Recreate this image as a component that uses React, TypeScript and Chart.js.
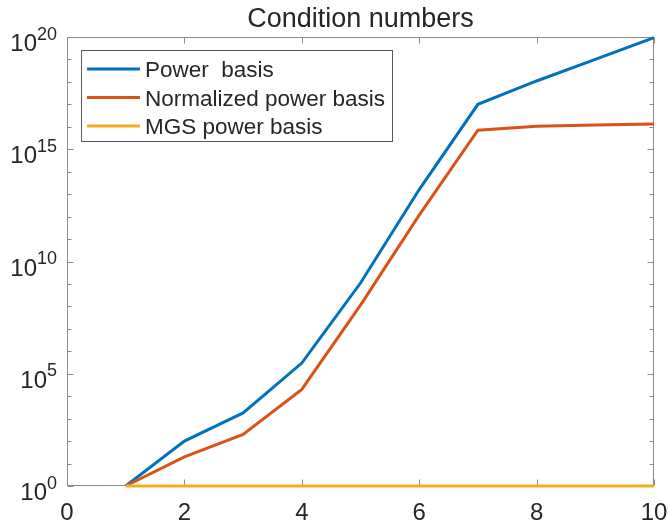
import React, { useEffect, useRef } from "react";
import { Chart, registerables } from "chart.js";

Chart.register(...registerables);

// Polynomial degree (x) and condition numbers of the three bases
const degrees = [1, 2, 3, 4, 5, 6, 7, 8, 9, 10];
const powerBasis = [1, 1.0e2, 1.8e3, 3.0e5, 1.1e9, 1.6e13, 1.0e17, 1.1e18, 1.0e19, 9.3e19];
const normalizedPowerBasis = [1, 2.0e1, 2.0e2, 2.0e4, 1.15e8, 1.17e12, 7.1e15, 1.07e16, 1.2e16, 1.32e16];
const mgsPowerBasis = [1, 1, 1, 1, 1, 1, 1, 1, 1, 1];

const seriesLabels = ["Power  basis", "Normalized power basis", "MGS power basis"];
const seriesColors = ["#0072BD", "#D95319", "#EDB120"];

const xTicks = [0, 2, 4, 6, 8, 10];
const yTickExponents = [0, 5, 10, 15, 20];
const yMinorExponents = [0, 1, 2, 3, 4, 5, 6, 7, 8, 9, 10, 11, 12, 13, 14, 15, 16, 17, 18, 19, 20];

const titleText = "Condition numbers";
const FONT = '"Liberation Sans", Arial, Helvetica, sans-serif';
const TEXT = "#262626";
const AXIS = "#8a8a8a";

const axesFrame = {
  id: "axesFrame",
  beforeDatasetsDraw(chart: any) {
    const { ctx, chartArea: a, scales } = chart;
    const x = scales.x;
    const y = scales.y;
    const L = Math.round(a.left) + 0.5;
    const R = Math.round(a.right) - 0.5;
    const T = Math.round(a.top) + 0.5;
    const B = Math.round(a.bottom) - 0.5;
    ctx.save();
    ctx.strokeStyle = AXIS;
    ctx.lineWidth = 1;
    ctx.strokeRect(L, T, R - L, B - T);
    ctx.beginPath();
    // x ticks, inward on bottom and top
    for (const t of xTicks) {
      const px = Math.round(x.getPixelForValue(t)) + 0.5;
      ctx.moveTo(px, B);
      ctx.lineTo(px, B - 6);
      ctx.moveTo(px, T);
      ctx.lineTo(px, T + 6);
    }
    // y ticks at every decade, inward on left and right
    for (const e of yMinorExponents) {
      const py = Math.round(y.getPixelForValue(Math.pow(10, e))) + 0.5;
      const len = e % 5 === 0 ? 6 : 4;
      ctx.moveTo(L, py);
      ctx.lineTo(L + len, py);
      ctx.moveTo(R, py);
      ctx.lineTo(R - len, py);
    }
    ctx.stroke();
    ctx.restore();
  },
  afterDatasetsDraw(chart: any) {
    const { ctx, chartArea: a, scales } = chart;
    const x = scales.x;
    const y = scales.y;
    ctx.save();
    ctx.fillStyle = TEXT;

    // x tick labels
    ctx.font = `24px ${FONT}`;
    ctx.textAlign = "center";
    ctx.textBaseline = "alphabetic";
    for (const t of xTicks) {
      ctx.fillText(String(t), x.getPixelForValue(t), a.bottom + 34);
    }

    // y tick labels as 10 with a raised exponent
    const labelRight = a.left - 10;
    for (const e of yTickExponents) {
      const py = y.getPixelForValue(Math.pow(10, e));
      ctx.textAlign = "right";
      ctx.font = `18px ${FONT}`;
      const expStr = String(e);
      const expW = ctx.measureText(expStr).width;
      ctx.fillText(expStr, labelRight, py + 2.5);
      ctx.font = `24px ${FONT}`;
      ctx.fillText("10", labelRight - expW, py + 14);
    }

    // title
    ctx.font = `27px ${FONT}`;
    ctx.textAlign = "center";
    ctx.fillText(titleText, (a.left + a.right) / 2, 27);

    // legend box
    const lx = 81.5, ly = 50.5, lw = 311, lh = 91;
    ctx.fillStyle = "#ffffff";
    ctx.fillRect(lx, ly, lw, lh);
    ctx.strokeStyle = "#5a5a5a";
    ctx.lineWidth = 1;
    ctx.strokeRect(lx, ly, lw, lh);
    const rows = [69, 97.5, 126];
    ctx.font = `22.5px ${FONT}`;
    ctx.textAlign = "left";
    seriesLabels.forEach((label, i) => {
      const ry = rows[i];
      ctx.strokeStyle = seriesColors[i];
      ctx.lineWidth = 3;
      ctx.beginPath();
      ctx.moveTo(87, ry);
      ctx.lineTo(140, ry);
      ctx.stroke();
      ctx.fillStyle = TEXT;
      ctx.fillText(label, 145, ry + 8);
    });
    ctx.restore();
  },
};

export default function App() {
  const canvasRef = useRef<HTMLCanvasElement | null>(null);

  useEffect(() => {
    const canvas = canvasRef.current;
    if (!canvas) return;
    const series = [powerBasis, normalizedPowerBasis, mgsPowerBasis];
    const chart = new Chart(canvas, {
      type: "line",
      data: {
        datasets: series.map((vals, i) => ({
          label: seriesLabels[i],
          data: degrees.map((d, j) => ({ x: d, y: vals[j] })),
          borderColor: seriesColors[i],
          backgroundColor: seriesColors[i],
          borderWidth: 3,
          pointRadius: 0,
          tension: 0,
          fill: false,
          clip: false,
          order: 2 - i,
        })),
      },
      options: {
        responsive: false,
        animation: false,
        events: [],
        layout: { padding: { left: 67, top: 37, right: 14, bottom: 35 } },
        plugins: {
          legend: { display: false },
          title: { display: false },
          tooltip: { enabled: false },
        },
        scales: {
          x: { type: "linear", min: 0, max: 10, display: false },
          y: { type: "logarithmic", min: 1, max: 1e20, display: false },
        },
      },
      plugins: [axesFrame],
    });
    return () => chart.destroy();
  }, []);

  return (
    <div style={{ position: "absolute", left: 0, top: 0, width: 668, height: 521, background: "#ffffff" }}>
      <canvas ref={canvasRef} width={668} height={521} style={{ width: 668, height: 521, display: "block" }} />
    </div>
  );
}
